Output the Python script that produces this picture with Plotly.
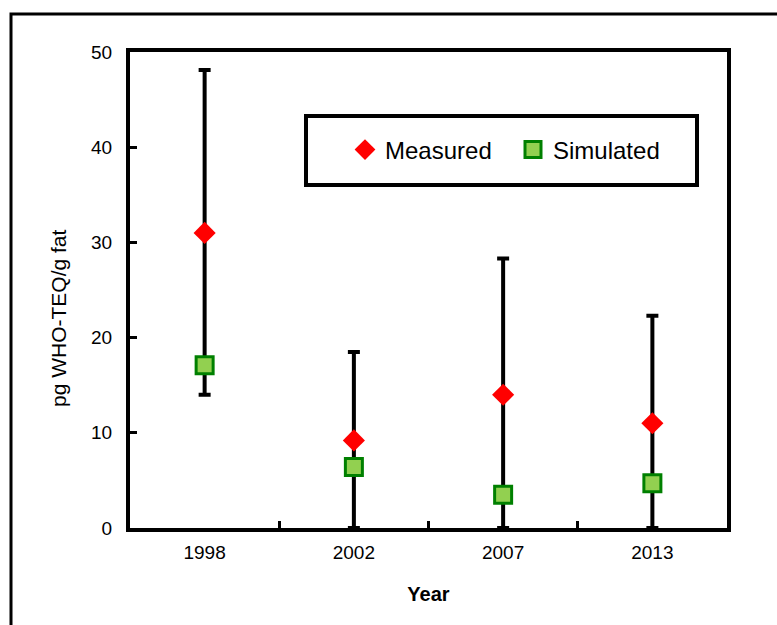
import plotly.graph_objects as go

years = ["1998", "2002", "2007", "2013"]
measured = [31.0, 9.2, 14.0, 11.0]
measured_err_plus = [17.1, 9.3, 14.3, 11.3]
measured_err_minus = [17.0, 9.2, 14.0, 11.0]
simulated = [17.1, 6.4, 3.5, 4.7]

W, H = 777, 625
L, R, T, B = 130, 50, 52, 97
pw, ph = W - L - R, H - T - B

def px_x(p):
    return (p - L) / pw

def px_y(p):
    return (H - B - p) / ph

fig = go.Figure()
fig.add_trace(go.Scatter(
    x=years, y=measured, mode="markers", name="Measured",
    marker=dict(symbol="diamond", size=17, color="#FF0000"),
    error_y=dict(type="data", array=measured_err_plus, arrayminus=measured_err_minus,
                 color="black", thickness=4, width=6),
))
fig.add_trace(go.Scatter(
    x=years, y=simulated, mode="markers", name="Simulated",
    marker=dict(symbol="square", size=17, color="#92D050",
                line=dict(color="#008000", width=3)),
))

font = "Liberation Sans, Arial, sans-serif"
fig.update_layout(
    width=W, height=H,
    margin=dict(l=L, r=R, t=T, b=B),
    paper_bgcolor="white", plot_bgcolor="white",
    showlegend=True,
    legend=dict(orientation="h", x=px_x(345), y=px_y(150), xanchor="left", yanchor="middle",
                font=dict(family=font, size=24, color="black"),
                entrywidth=123, entrywidthmode="pixels",
                bgcolor="rgba(0,0,0,0)", borderwidth=0, itemsizing="trace"),
    xaxis=dict(type="category", range=[-0.5, 3.5], tickson="boundaries", ticks="inside",
               ticklen=7, tickwidth=3, ticklabelstandoff=4,
               tickcolor="black", showline=True, linewidth=4, linecolor="black", mirror=True,
               showgrid=False, zeroline=False,
               tickfont=dict(family=font, size=19, color="black"),
               title=dict(text="<b>Year</b>", font=dict(family=font, size=20, color="black"), standoff=26)),
    yaxis=dict(range=[0, 50], dtick=10, ticks="inside", ticklen=7, tickwidth=3, tickcolor="black",
               ticklabelstandoff=10,
               showline=True, linewidth=4, linecolor="black", mirror=True,
               showgrid=False, zeroline=False,
               tickfont=dict(family=font, size=19, color="black")),
    shapes=[
        dict(type="rect", xref="paper", yref="paper",
             x0=px_x(11), x1=px_x(800), y0=px_y(660), y1=px_y(14),
             line=dict(color="black", width=3), fillcolor="rgba(0,0,0,0)", layer="above"),
        dict(type="rect", xref="paper", yref="paper",
             x0=px_x(306), x1=px_x(697), y0=px_y(185), y1=px_y(116),
             line=dict(color="black", width=4), fillcolor="white", layer="above"),
    ],
    annotations=[
        dict(text="pg WHO-TEQ/g fat", xref="paper", yref="paper", x=px_x(58), y=px_y(318),
             textangle=-90, showarrow=False, xanchor="center", yanchor="middle",
             font=dict(family=font, size=21, color="black")),
    ],
)

fig.write_html("out.html")
